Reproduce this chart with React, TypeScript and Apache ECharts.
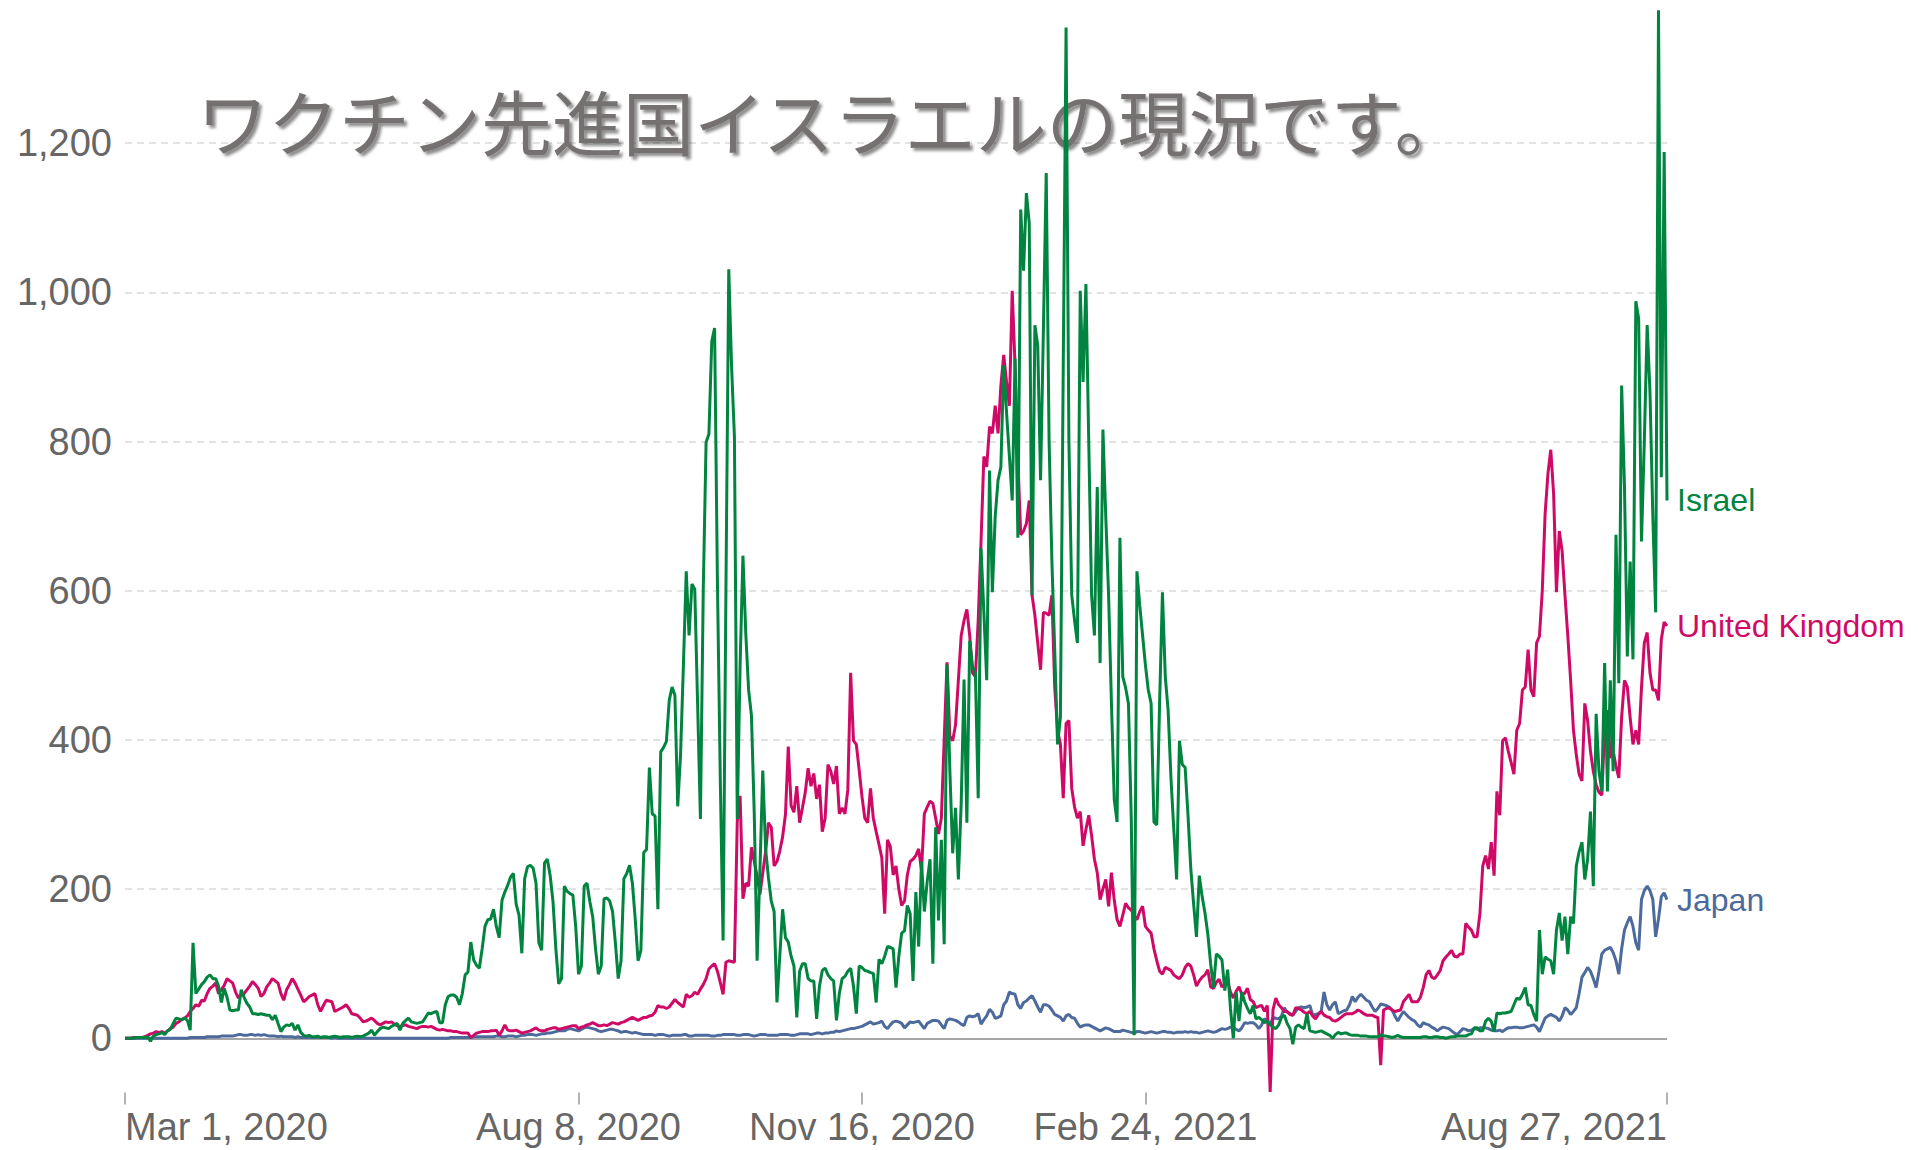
import React, { useEffect, useRef } from "react";
import * as echarts from "echarts";

// Daily new confirmed COVID-19 cases per million, Mar 1 2020 – Aug 27 2021
const israel: number[] = [
  // Mar 2020
  0, 0, 0, 0, 1, 1, 1, 1, 2, -4,
  3, 5, 6, 8, 5, 10, 12, 20, 27, 26,
  25, 27, 24, 11, 128, 60, 66, 72, 76, 82,
  85,
  // Apr
  80, 80, 70, 48, 67, 55, 38, 37, 38, 38,
  65, 55, 47, 42, 33, 33, 32, 33, 32, 31,
  31, 25, 31, 20, 9, 15, 18, 17, 20, 11,
  // May
  18, 8, 4, 3, 4, 2, 2, 3, 1, 2,
  2, 1, 2, 3, 2, 1, 2, 2, 2, 1,
  2, 3, 2, 3, 5, 7, 11, 4, 9, 13,
  15,
  // Jun
  14, 13, 16, 18, 20, 11, 20, 24, 27, 22,
  21, 20, 21, 22, 28, 34, 33, 35, 36, 21,
  21, 45, 56, 58, 58, 55, 45, 60, 85, 89,
  // Jul
  129, 105, 98, 94, 120, 150, 159, 160, 173, 150,
  135, 185, 196, 205, 216, 221, 180, 165, 114, 214,
  230, 232, 228, 208, 128, 118, 235, 240, 218, 183,
  120,
  // Aug
  73, 80, 204, 197, 194, 192, 150, 86, 97, 204,
  208, 183, 163, 120, 86, 97, 187, 188, 184, 170,
  128, 80, 104, 214, 221, 232, 208, 160, 104, 118,
  249,
  // Sep
  253, 363, 301, 298, 173, 384, 390, 398, 453, 471,
  460, 311, 381, 500, 626, 540, 609, 602, 450, 294,
  600, 799, 810, 934, 952, 612, 350, 131, 600, 1031,
  // Oct
  900, 806, 294, 500, 647, 543, 467, 433, 300, 104,
  225, 359, 254, 215, 184, 170, 48, 110, 173, 135,
  129, 110, 97, 28, 90, 100, 100, 80, 77, 77,
  26,
  // Nov
  70, 91, 94, 85, 80, 77, 24, 60, 80, 83,
  90, 94, 70, 33, 97, 95, 91, 90, 88, 87,
  48, 106, 100, 110, 123, 122, 120, 68, 110, 141,
  // Dec
  144, 178, 167, 77, 196, 123, 237, 170, 210, 240,
  100, 283, 158, 266, 126, 501, 359, 248, 309, 213,
  315, 481, 289, 533, 498, 490, 322, 657, 571, 480,
  761,
  // Jan 2021
  598, 700, 748, 766, 902, 839, 780, 721, 911, 671,
  1111, 1029, 1133, 1093, 594, 956, 929, 748, 950, 1160,
  802, 639, 520, 394, 430, 900, 1355, 800, 594, 560,
  530,
  // Feb
  1002, 880, 1011, 800, 594, 540, 739, 503, 816, 700,
  594, 450, 320, 290, 671, 485, 470, 449, 295, 4,
  626, 580, 540, 500, 467, 449, 290, 286,
  // Mar
  450, 598, 485, 440, 349, 280, 213, 399, 367, 363,
  300, 227, 180, 136, 218, 190, 168, 140, 100, 68,
  113, 110, 105, 64, 92, 40, 0, 62, 23, 62,
  49,
  // Apr
  40, 33, 44, 26, 28, 25, 21, 23, 18, 15,
  13, 18, 28, 31, 20, 13, -8, 15, 18, 15,
  13, 33, 10, 9, 8, 9, 10, 8, 6, 4,
  // May
  0, 5, 8, 6, 7, 7, 5, 4, 4, 4,
  3, 3, 3, 2, 2, 2, 2, 5, 3, 3,
  2, 1, 2, 4, 2, 1, 1, 1, 1, 1,
  1,
  // Jun
  1, 2, 2, 1, 1, 2, 2, 1, 1, 0,
  1, 2, 2, 3, 3, 3, 3, 5, 6, 14,
  14, 10, 10, 23, 27, 23, 9, 34, 33, 34,
  // Jul
  34, 35, 36, 45, 54, 52, 59, 68, 45, 44,
  32, 23, 145, 86, 109, 106, 104, 86, 145, 168,
  131, 163, 113, 163, 154, 231, 250, 263, 213, 240,
  304,
  // Aug 1-27
  204, 435, 358, 331, 503, 331, 480, 358, 675, 476,
  875, 739, 512, 639, 508, 988, 965, 666, 800, 956,
  866, 700, 571, 1378, 752, 1188, 721,
];

const unitedKingdom: number[] = [
  // Mar 2020
  0, 0, 0, 1, 1, 1, 1, 2, 4, 6,
  7, 9, 8, 9, 7, 10, 13, 15, 20, 22,
  25, 27, 30, 36, 40, 45, 43, 51, 50, 60,
  67,
  // Apr
  70, 74, 60, 65, 71, 80, 77, 74, 62, 54,
  58, 60, 65, 70, 76, 72, 67, 56, 60, 69,
  74, 80, 77, 74, 60, 51, 65, 72, 80, 74,
  // May
  66, 58, 49, 52, 56, 58, 60, 45, 36, 44,
  51, 50, 49, 36, 38, 40, 42, 45, 40, 33,
  32, 31, 27, 22, 23, 25, 27, 24, 20, 18,
  20,
  // Jun
  22, 21, 22, 19, 17, 16, 17, 18, 16, 15,
  14, 13, 15, 16, 16, 15, 16, 14, 12, 11,
  12, 11, 10, 10, 9, 9, 8, 7, 7, 7,
  // Jul
  1, 4, 7, 8, 9, 9, 9, 10, 10, 11,
  4, 10, 18, 11, 10, 10, 11, 9, 7, 8,
  9, 10, 12, 14, 11, 10, 10, 12, 13, 14,
  14,
  // Aug
  12, 13, 14, 15, 16, 17, 17, 13, 15, 16,
  18, 19, 21, 19, 17, 17, 18, 17, 19, 21,
  20, 19, 21, 22, 24, 26, 28, 26, 24, 26,
  28,
  // Sep
  28, 30, 31, 35, 44, 42, 42, 40, 42, 47,
  52, 48, 45, 42, 59, 55, 57, 62, 59, 66,
  72, 80, 93, 97, 100, 90, 75, 59, 102, 104,
  // Oct
  103, 102, 291, 325, 187, 208, 204, 256, 237, 218,
  193, 222, 250, 289, 283, 231, 237, 251, 270, 300,
  391, 312, 303, 338, 289, 309, 330, 362, 338, 355,
  321,
  // Nov
  340, 277, 295, 367, 358, 341, 365, 301, 309, 301,
  333, 490, 399, 394, 360, 324, 295, 289, 335, 295,
  277, 260, 242, 167, 266, 257, 219, 231, 200, 178,
  // Dec
  184, 219, 237, 240, 245, 254, 225, 301, 310, 318,
  315, 295, 274, 295, 400, 504, 405, 399, 420, 480,
  540, 560, 575, 540, 490, 485, 560, 666, 780, 766,
  820,
  // Jan 2021
  811, 848, 811, 875, 916, 880, 848, 1002, 902, 775,
  675, 680, 690, 721, 594, 567, 530, 494, 571, 570,
  567, 594, 470, 413, 394, 322, 422, 426, 335, 310,
  295,
  // Feb
  304, 258, 280, 299, 272, 240, 222, 186, 200, 213,
  177, 222, 185, 159, 150, 165, 181, 175, 172, 165,
  159, 170, 177, 150, 145, 141, 120, 104,
  // Mar
  90, 86, 95, 93, 91, 85, 82, 80, 85, 95,
  100, 97, 85, 70, 77, 82, 85, 92, 69, 67,
  75, 79, 69, 72, 77, 62, 54, 63, 69, 59,
  60,
  // Apr
  67, 52, 49, 41, 43, 44, 36, 44, -72, 38,
  54, 45, 41, 36, 36, 32, 31, 41, 40, 38,
  35, 33, 36, 30, 26, 32, 36, 31, 29, 28,
  // May
  24, 23, 25, 28, 31, 33, 33, 33, 35, 38,
  36, 33, 31, 31, 31, 29, 28, -36, 38, 40,
  41, 38, 36, 37, 38, 49, 54, 59, 49, 49,
  49,
  // Jun
  55, 68, 85, 91, 82, 80, 85, 91, 104, 109,
  113, 118, 110, 109, 113, 113, 154, 149, 145, 136,
  136, 167, 231, 245, 227, 263, 218, 331, 299, 399,
  // Jul
  403, 385, 370, 354, 413, 422, 467, 471, 521, 467,
  458, 530, 539, 600, 703, 757, 789, 730, 598, 680,
  653, 594, 540, 480, 413, 380, 354, 345, 449, 426,
  385,
  // Aug 1-27
  358, 340, 330, 326, 413, 440, 376, 385, 365, 349,
  431, 480, 471, 430, 394, 413, 394, 470, 530, 544,
  490, 467, 467, 453, 535, 558, 553,
];

const japan: number[] = [
  // Mar 2020
  0, 0, 0, 0, 0, 0, 0, 0, 0, 0,
  0, 0, 0, 0, 0, 0, 0, 0, 0, 0,
  0, 0, 0, 1, 1, 1, 1, 1, 1, 2,
  2,
  // Apr
  2, 2, 2, 3, 3, 3, 3, 3, 4, 5,
  5, 4, 4, 5, 5, 4, 5, 4, 5, 4,
  3, 3, 3, 2, 3, 2, 2, 2, 2, 1,
  // May
  2, 1, 1, 1, 1, 1, 1, 1, 1, 1,
  1, 1, 0, 1, 0, 0, 0, 0, 0, 0,
  0, 0, 0, 0, 0, 0, 0, 0, 0, 0,
  0,
  // Jun
  0, 0, 0, 0, 0, 0, 0, 0, 0, 0,
  0, 0, 0, 0, 0, 0, 0, 0, 0, 0,
  0, 0, 0, 1, 1, 1, 1, 1, 1, 1,
  // Jul
  1, 2, 2, 2, 2, 2, 2, 2, 2, 3,
  3, 2, 2, 3, 3, 3, 2, 3, 4, 4,
  5, 5, 5, 4, 5, 6, 6, 7, 7, 8,
  9,
  // Aug
  10, 10, 10, 12, 13, 12, 11, 10, 12, 14,
  15, 14, 13, 12, 10, 9, 10, 11, 12, 12,
  11, 10, 8, 9, 9, 8, 7, 8, 7, 6,
  5,
  // Sep
  5, 5, 5, 4, 5, 5, 5, 4, 3, 4,
  4, 4, 4, 5, 5, 3, 3, 4, 4, 4,
  4, 4, 4, 3, 3, 4, 4, 5, 5, 5,
  // Oct
  5, 5, 4, 4, 5, 5, 5, 4, 3, 4,
  5, 5, 5, 4, 4, 4, 4, 5, 5, 5,
  5, 4, 4, 5, 6, 6, 6, 6, 5, 6,
  7,
  // Nov
  7, 6, 7, 7, 8, 8, 10, 9, 10, 11,
  12, 13, 13, 14, 15, 16, 18, 20, 22, 19,
  20, 21, 23, 16, 13, 18, 22, 23, 22, 20,
  // Dec
  14, 18, 22, 21, 22, 23, 18, 13, 20, 22,
  24, 24, 23, 18, 13, 24, 26, 25, 24, 22,
  19, 17, 28, 30, 29, 30, 33, 19, 25, 30,
  39,
  // Jan 2021
  35, 27, 28, 30, 45, 50, 62, 60, 59, 45,
  40, 48, 50, 54, 57, 50, 42, 35, 45, 45,
  43, 38, 32, 30, 28, 23, 30, 32, 28, 27,
  20,
  // Feb
  15, 17, 18, 18, 16, 14, 12, 10, 12, 14,
  13, 11, 9, 9, 9, 11, 10, 9, 8, 7,
  9, 9, 8, 7, 8, 9, 8, 7,
  // Mar
  8, 9, 9, 8, 8, 7, 8, 8, 8, 9,
  8, 9, 8, 8, 7, 8, 9, 10, 9, 8,
  9, 11, 13, 12, 13, 15, 15, 12, 10, 14,
  21,
  // Apr
  20, 21, 21, 18, 13, 18, 26, 24, 18, 28,
  27, 26, 30, 41, 35, 33, 31, 36, 41, 42,
  41, 42, 44, 31, 32, 33, 36, 62, 45, 38,
  // May
  45, 49, 33, 35, 37, 38, 45, 56, 49, 55,
  59, 55, 51, 49, 42, 36, 40, 46, 45, 44,
  42, 38, 30, 23, 30, 36, 32, 28, 25, 23,
  18,
  // Jun
  15, 21, 19, 18, 15, 13, 10, 13, 15, 14,
  13, 10, 7, 5, 9, 13, 12, 10, 11, 13,
  12, 14, 14, 14, 13, 11, 10, 10, 11, 9,
  // Jul
  12, 14, 14, 15, 15, 14, 14, 15, 16, 17,
  18, 15, 9, 18, 27, 30, 32, 30, 28, 23,
  30, 41, 38, 32, 36, 41, 60, 82, 88, 95,
  90,
  // Aug 1-27
  80, 68, 90, 113, 118, 120, 122, 115, 104, 86,
  120, 145, 155, 163, 150, 128, 118, 186, 198, 204,
  198, 186, 136, 160, 190, 195, 186,
];

const seriesNames = ["Japan", "United Kingdom", "Israel"];
const seriesColors = ["#4c6a9c", "#cf0a66", "#00843f"];

const startDate = Date.UTC(2020, 2, 1);
const dates: string[] = israel.map((_, i) =>
  new Date(startDate + i * 86400000).toISOString().slice(0, 10)
);

const tickIndices = [0, 160, 260, 360, 544];
const tickLabels = ["Mar 1, 2020", "Aug 8, 2020", "Nov 16, 2020", "Feb 24, 2021", "Aug 27, 2021"];

const yTickValues = [0, 200, 400, 600, 800, 1000, 1200];

const titleText = "ワクチン先進国イスラエルの現況です。";

const latin = '"Liberation Sans", Arial, sans-serif';

export default function App() {
  const ref = useRef<HTMLDivElement>(null);

  useEffect(() => {
    document.body.style.margin = "0";
    document.body.style.overflow = "hidden";
    if (!ref.current) return;
    const chart = echarts.init(ref.current, undefined, { renderer: "svg" });
    const dataSets = [japan, unitedKingdom, israel];

    const series: any[] = seriesNames.map((name, k) => ({
      name,
      type: "line",
      data: dataSets[k],
      showSymbol: false,
      symbol: "none",
      z: 2 + k,
      lineStyle: { width: 3, color: seriesColors[k] },
      itemStyle: { color: seriesColors[k] },
      emphasis: { disabled: true },
      endLabel: {
        show: true,
        formatter: "{a}",
        color: seriesColors[k],
        fontSize: 32,
        fontFamily: latin,
        distance: 10,
      },
    }));
    series[0].markLine = {
      silent: true,
      z: 1,
      symbol: ["none", "none"],
      label: { show: false },
      lineStyle: { color: "#a6a6a6", width: 2, type: "solid" },
      data: [{ yAxis: 0 }],
    };

    chart.setOption({
      animation: false,
      backgroundColor: "#ffffff",
      title: {
        text: titleText,
        left: 192,
        top: 78,
        z: 0,
        textStyle: {
          fontFamily: '"Noto Sans CJK JP", sans-serif',
          fontSize: 71,
          fontWeight: "normal",
          color: "#767171",
          textShadowColor: "rgba(0,0,0,0.45)",
          textShadowBlur: 3,
          textShadowOffsetX: 3,
          textShadowOffsetY: 3,
        },
      },
      grid: { left: 125, right: 251, top: 1.4, bottom: 57.6, containLabel: false },
      xAxis: {
        type: "category",
        data: dates,
        boundaryGap: false,
        axisLine: { show: false, onZero: false },
        axisTick: {
          show: true,
          length: 12,
          interval: (i: number) => tickIndices.includes(i),
          lineStyle: { color: "#9a9a9a", width: 1.5 },
        },
        axisLabel: {
          interval: (i: number) => tickIndices.includes(i),
          formatter: (_v: string, i: number) => {
            const p = tickIndices.indexOf(i);
            return p >= 0 ? tickLabels[p] : "";
          },
          color: "#666666",
          fontSize: 38,
          fontFamily: latin,
          margin: 16,
          alignMinLabel: "left",
          alignMaxLabel: "right",
        },
        splitLine: { show: false },
      },
      yAxis: {
        type: "value",
        min: -72.5,
        max: 1390,
        minInterval: 200,
        maxInterval: 200,
        axisLine: { show: false },
        axisTick: { show: false },
        axisLabel: {
          color: "#666666",
          fontSize: 38,
          fontFamily: latin,
          margin: 13,
          showMinLabel: false,
          showMaxLabel: false,
          formatter: (v: number) =>
            yTickValues.includes(v) ? v.toLocaleString("en-US") : "",
        },
        splitLine: {
          show: true,
          showMinLine: false,
          showMaxLine: false,
          lineStyle: { color: "#dadada", width: 1.5, type: [7, 5] },
        },
      },
      series,
    });
    return () => chart.dispose();
  }, []);

  return <div ref={ref} style={{ width: 1918, height: 1150 }} />;
}
